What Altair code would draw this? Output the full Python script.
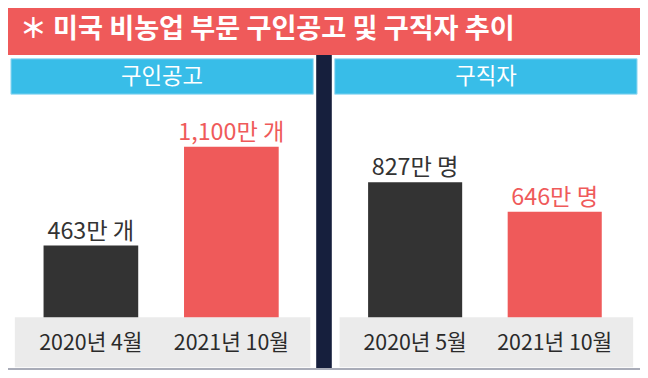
import altair as alt
import pandas as pd

# ---- data ----
job_periods = ["2020년 4월", "2021년 10월"]
job_values = [463, 1100]
seeker_periods = ["2020년 5월", "2021년 10월"]
seeker_values = [827, 646]

title_text = "＊ 미국 비농업 부문 구인공고 및 구직자 추이"
left_header = "구인공고"
right_header = "구직자"

# ---- styling ----
W, H = 632, 362
SX, SY = W / 648, H / 378
FONT = "Noto Sans CJK KR"
RED = "#EF5A5A"
NAVY = "#161F3D"
BLUE = "#38BDE8"
GRAY = "#EBEBEB"
DARK = "#333333"

dummy = pd.DataFrame({"d": [0]})


def rect(x0, x1, y0, y1, color, **kw):
    return alt.Chart(dummy).mark_rect(color=color, **kw).encode(
        x=alt.value(x0 * SX), x2=alt.value(x1 * SX),
        y=alt.value(y0 * SY), y2=alt.value(y1 * SY))


def label(txt, x, y, size, color, align="center", weight="normal"):
    return alt.Chart(dummy).mark_text(
        text=txt, font=FONT, fontSize=size * 0.97, color=color, align=align,
        baseline="middle", fontWeight=weight).encode(
        x=alt.value(x * SX), y=alt.value(y * SY))


decor = [
    rect(0, 648, 0, 49, RED),
    rect(316, 332, 49, 378, NAVY),
    rect(3, 313, 53, 90, BLUE, stroke="#9fdcf3", strokeWidth=1),
    rect(335, 645, 53, 90, BLUE, stroke="#9fdcf3", strokeWidth=1),
    rect(7, 310, 323, 375, GRAY),
    rect(340, 641, 323, 375, GRAY),
    rect(0, 648, 376, 378, "#a9acb8"),
    label(title_text, 12, 23, 28, "white", align="left", weight="bold"),
    label(left_header, 158, 72, 23, "white"),
    label(right_header, 490, 72, 23, "white"),
]


def panel(periods, values, unit, xr, ymax):
    df = pd.DataFrame({"period": periods, "value": values})
    base = alt.Chart(df).encode(
        x=alt.X("period:N", sort=None, axis=None,
                scale=alt.Scale(range=[xr[0] * SX, xr[1] * SX],
                                paddingInner=0.326, paddingOuter=0.26)),
    )
    yenc = alt.Y("value:Q", axis=None,
                 scale=alt.Scale(domain=[0, ymax], range=[323 * SY, 0],
                                 nice=False, zero=True))
    is_new = alt.datum.period == "2021년 10월"
    bars = base.mark_bar().encode(
        y=yenc,
        color=alt.condition(is_new, alt.value(RED), alt.value(DARK)),
    )
    vals = base.mark_text(font=FONT, fontSize=24 * 0.97, baseline="alphabetic",
                          dy=-7).encode(
        y=yenc,
        text=alt.Text("label:N"),
        color=alt.condition(is_new, alt.value(RED), alt.value(DARK)),
    ).transform_calculate(label=f"format(datum.value, ',') + '만 {unit}'")
    cats = base.mark_text(font=FONT, fontSize=22 * 0.97, baseline="middle",
                          color="#2a2a2a").encode(
        y=alt.value(351 * SY),
        text="period:N",
    )
    return alt.layer(bars, vals, cats)


left = panel(job_periods, job_values, "개", (-1, 315), 1996)
right = panel(seeker_periods, seeker_values, "명", (332, 646), 1894)

chart = alt.layer(*decor, left, right).resolve_scale(
    x="independent", y="independent", color="independent"
).properties(
    width=W, height=H, padding=0,
    autosize=alt.AutoSizeParams(type="none"),
    background="white",
).configure_view(strokeWidth=0)

chart.save("out.html", embed_options={"renderer": "svg", "actions": False})
